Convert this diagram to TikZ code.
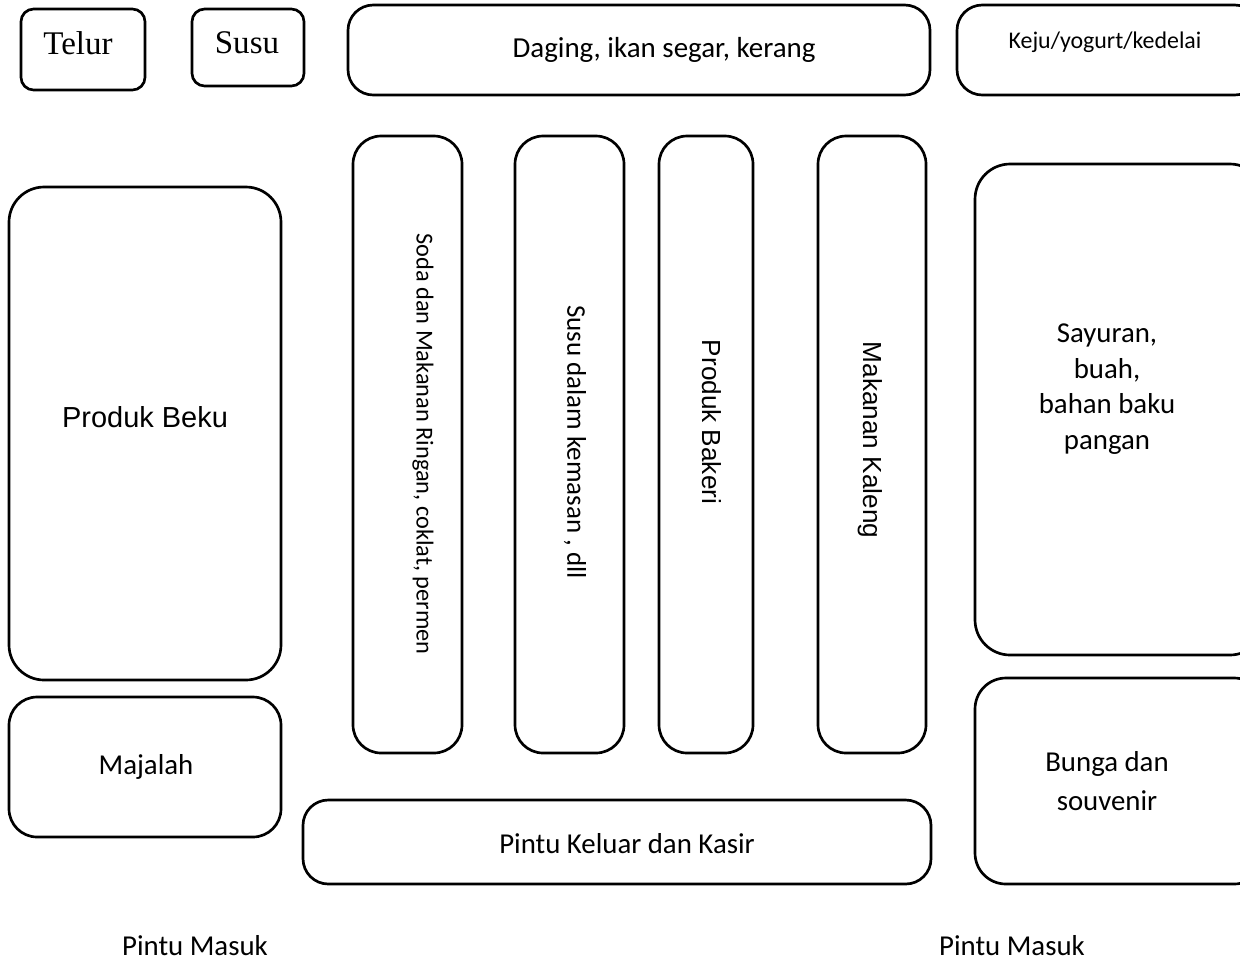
\documentclass[tikz,border=0pt]{standalone}
\usepackage{fontspec}
\setmainfont{Carlito}
\newfontfamily\arialf{Liberation Sans}
\newfontfamily\timesf{Liberation Serif}
\usetikzlibrary{fit}
\tikzset{
  box/.style={draw, line width=1.9pt, inner sep=0pt},
  lab/.style={inner sep=0pt, align=center},
}
\begin{document}
\begin{tikzpicture}[x=0.025cm, y=-0.025cm]
\useasboundingbox (0,0) rectangle (1240,962);
\clip (0,0) rectangle (1240,962);
% top row
\node[box, rounded corners=9pt, fit={(21,9) (145,90)}] (telur) {};
\node[box, rounded corners=9pt, fit={(192,9) (304,86)}] (susu) {};
\node[box, rounded corners=18pt, fit={(348,5) (930,95)}] (daging) {};
\node[box, rounded corners=18pt, fit={(957,5) (1260,95)}] (keju) {};
\node[lab, font=\timesf\fontsize{23.5}{27}\selectfont] (telurt) at (78,43) {Telur};
\node[lab, font=\timesf\fontsize{23.5}{27}\selectfont] (susut) at (247,43) {Susu};
\node[lab, font=\fontsize{20.6}{24}\selectfont] (dagingt) at (664,50) {Daging, ikan segar, kerang};
\node[lab, font=\fontsize{17}{20}\selectfont] (kejut) at (1105,42) {Keju/yogurt/kedelai};
% left
\node[box, rounded corners=25pt, fit={(9,187) (281,680)}] (beku) {};
\node[lab, font=\arialf\fontsize{20.6}{24}\selectfont] (bekut) at (145,417) {Produk Beku};
\node[box, rounded corners=20pt, fit={(9,697) (281,837)}] (majalah) {};
\node[lab, font=\fontsize{20.5}{24}\selectfont] (majalaht) at (146,767) {Majalah};
% columns
\node[box, rounded corners=20pt, fit={(353,136) (462,753)}] (soda) {};
\node[box, rounded corners=20pt, fit={(515,136) (624,753)}] (susudalam) {};
\node[box, rounded corners=20pt, fit={(659,136) (753,753)}] (bakeri) {};
\node[box, rounded corners=20pt, fit={(818,136) (926,753)}] (kaleng) {};
\node[lab, rotate=-90, font=\fontsize{17.3}{20}\selectfont] (sodat) at (423,444) {Soda dan Makanan Ringan, coklat, permen};
\node[lab, rotate=-90, font=\fontsize{19.2}{22}\selectfont] (susudalamt) at (575,442) {Susu dalam kemasan , dll};
\node[lab, rotate=-90, font=\arialf\fontsize{18.6}{22}\selectfont] (bakerit) at (712,422) {Produk Bakeri};
\node[lab, rotate=-90, font=\arialf\fontsize{18.6}{22}\selectfont] (kalengt) at (870,440) {Makanan Kaleng};
% right
\node[box, rounded corners=25pt, fit={(975,164) (1265,655)}] (sayur) {};
\node[lab, font=\fontsize{20.5}{25.2}\selectfont] (sayurt) at (1107,389) {Sayuran,\\buah,\\bahan baku\\pangan};
\node[box, rounded corners=22pt, fit={(975,678) (1265,884)}] (bunga) {};
\node[lab, font=\fontsize{20.5}{27.5}\selectfont] (bungat) at (1107,781) {Bunga dan\\souvenir};
% bottom
\node[box, rounded corners=18pt, fit={(303,800) (931,884)}] (keluar) {};
\node[lab, font=\fontsize{20.5}{24}\selectfont] (keluart) at (627,844) {Pintu Keluar dan Kasir};
\node[lab, font=\fontsize{20.5}{24}\selectfont] (masuk1) at (195,946) {Pintu Masuk};
\node[lab, font=\fontsize{20.5}{24}\selectfont] (masuk2) at (1012,946) {Pintu Masuk};
\end{tikzpicture}
\end{document}
